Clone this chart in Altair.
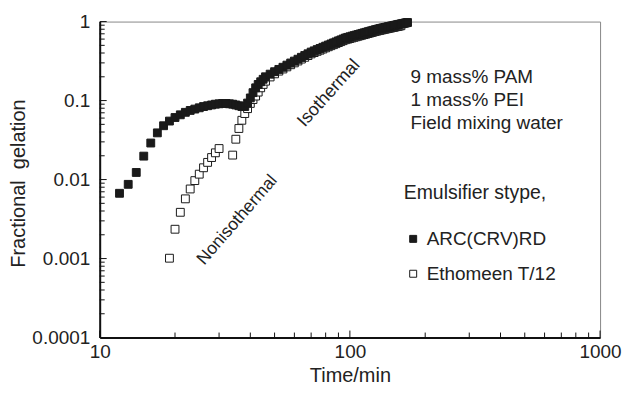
import altair as alt
import pandas as pd

# ---- data ----
series_names = ["ARC(CRV)RD", "Ethomeen T/12"]

arc_time = list(range(12, 47)) + list(range(48, 171, 2))
arc_frac = [0.0067, 0.0087, 0.0123, 0.0198, 0.029, 0.039, 0.048, 0.055, 0.061, 0.066,
            0.071, 0.075, 0.078, 0.081, 0.084, 0.086, 0.088, 0.090, 0.091, 0.092,
            0.092, 0.091, 0.090, 0.088, 0.086, 0.084, 0.084, 0.093, 0.108, 0.126,
            0.145, 0.160, 0.173, 0.186, 0.200,
            0.216, 0.232, 0.248, 0.264, 0.281, 0.299, 0.316, 0.334, 0.353, 0.372,
            0.391, 0.411, 0.426, 0.442, 0.457, 0.473, 0.489, 0.505, 0.521, 0.537,
            0.553, 0.570, 0.586, 0.603, 0.620, 0.631, 0.642, 0.654, 0.665, 0.676,
            0.687, 0.698, 0.709, 0.720, 0.731, 0.742, 0.753, 0.764, 0.775, 0.786,
            0.796, 0.807, 0.816, 0.824, 0.833, 0.842, 0.850, 0.859, 0.867, 0.876,
            0.884, 0.892, 0.900, 0.909, 0.917, 0.925, 0.933, 0.941, 0.949, 0.957,
            0.965, 0.973]

eth_time = list(range(19, 31)) + list(range(34, 47)) + list(range(48, 161, 2))
eth_frac = [0.00101, 0.00235, 0.00385, 0.0057, 0.0076, 0.0097, 0.0117, 0.0141, 0.0165, 0.019,
            0.0218, 0.0247,
            0.0204, 0.0324, 0.0443, 0.0563, 0.0685, 0.079, 0.092, 0.103, 0.114, 0.128,
            0.145, 0.160, 0.176,
            0.199, 0.218, 0.236, 0.251, 0.267, 0.284, 0.300, 0.317, 0.335, 0.353,
            0.371, 0.390, 0.405, 0.420, 0.434, 0.449, 0.465, 0.480, 0.495, 0.510,
            0.525, 0.542, 0.557, 0.573, 0.589, 0.599, 0.610, 0.621, 0.632, 0.642,
            0.653, 0.663, 0.674, 0.684, 0.694, 0.705, 0.715, 0.726, 0.736, 0.747,
            0.756, 0.767, 0.775, 0.783, 0.791, 0.800, 0.808, 0.816, 0.824, 0.832,
            0.840, 0.847, 0.855, 0.864, 0.871, 0.879, 0.886]

y_major = [0.0001, 0.001, 0.01, 0.1, 1]
x_major = [10, 100, 1000]
y_minor = [m * d for d in [0.0001, 0.001, 0.01, 0.1] for m in range(2, 10)]
x_minor = [m * d for d in [10, 100] for m in range(2, 10)]

side_text = "9 mass% PAM\n1 mass% PEI\nField mixing water"

# ---- chart ----
df = pd.concat([
    pd.DataFrame({"t": eth_time, "f": eth_frac, "s": series_names[1]}),
    pd.DataFrame({"t": arc_time, "f": arc_frac, "s": series_names[0]}),
], ignore_index=True)

W, H = 502, 317
FONT = "Liberation Sans"
TXT = "#222222"
xs = alt.Scale(type="log", domain=[10, 1000], nice=False)
ys = alt.Scale(type="log", domain=[0.0001, 1], nice=False)

x_axis = alt.Axis(values=x_major, format="d", ticks=False, grid=False, labelFlush=False,
                  labelPadding=5, labelFontSize=19, labelColor=TXT,
                  title="Time/min", titleFontSize=20, titleFontWeight="normal",
                  titleColor=TXT, titleX=251, titleY=44, titleBaseline="alphabetic")
y_axis = alt.Axis(values=y_major, format="~g", ticks=False, grid=False, labelFlush=False,
                  labelPadding=10, labelFontSize=19, labelColor=TXT,
                  title="Fractional\u00a0 gelation", titleFontSize=20,
                  titleFontWeight="normal", titleColor=TXT, titleAngle=270,
                  titleX=-81, titleY=162, titleBaseline="middle", titleAlign="center")

points = alt.Chart(df).mark_square(size=62, stroke="#1a1a1a", strokeWidth=1, opacity=1).encode(
    x=alt.X("t:Q", scale=xs, axis=x_axis),
    y=alt.Y("f:Q", scale=ys, axis=y_axis),
    fill=alt.Fill("s:N", scale=alt.Scale(domain=series_names, range=["#1a1a1a", "#ffffff"]),
                  legend=alt.Legend(orient="none", legendX=305, legendY=163,
                                    title="Emulsifier stype,", titleFontSize=19.5, titleFontWeight="normal",
                                    titleColor=TXT, titlePadding=26, labelFontSize=19, labelColor=TXT,
                                    symbolType="square", symbolSize=49, symbolStrokeColor="#1a1a1a",
                                    symbolStrokeWidth=1, symbolOffset=0, labelOffset=4, rowPadding=15,
                                    padding=0,
                                    labelExpr="datum.label == 'Ethomeen T/12' ? '\u00a0' + datum.label : datum.label")),
)

def yticks(vals, length):
    return alt.Chart(pd.DataFrame({"f": vals})).mark_rule(color="#111", strokeWidth=1).encode(
        y=alt.Y("f:Q", scale=ys, axis=y_axis), x=alt.value(0), x2=alt.value(length))

def xticks(vals, length):
    return alt.Chart(pd.DataFrame({"t": vals})).mark_rule(color="#111", strokeWidth=1).encode(
        x=alt.X("t:Q", scale=xs, axis=x_axis), y=alt.value(H), y2=alt.value(H - length))

def label(text, x, y, size, angle=0, align="center"):
    kw = dict(fontSize=size, color=TXT, align=align, baseline="middle", lineBreak="\n", lineHeight=23)
    if angle:
        kw["angle"] = angle
    return alt.Chart(pd.DataFrame({"txt": [text]})).mark_text(**kw).encode(
        text="txt:N", x=alt.value(x), y=alt.value(y))

t_side = label(side_text, 311.7, 56, 19, align="left")
t_non = label("Nonisothermal", 138, 199, 17.5, angle=311)
t_iso = label("Isothermal", 230, 72, 18, angle=312)

chart = alt.layer(points, yticks(y_minor, 5), yticks(y_major, 7), xticks(x_minor, 5), xticks(x_major, 7),
                  t_side, t_non, t_iso).properties(
    width=W, height=H,
    padding={"left": 92, "top": 13, "right": 22, "bottom": 49},
    autosize=alt.AutoSizeParams(type="none"),
).configure(font=FONT).configure_view(stroke="#888888", strokeWidth=1).configure_axis(
    domainColor="#111111", domainWidth=2, labelFont=FONT, titleFont=FONT
).configure_legend(labelFont=FONT, titleFont=FONT)

chart.save("out.html", embed_options={"renderer": "svg", "actions": False})
